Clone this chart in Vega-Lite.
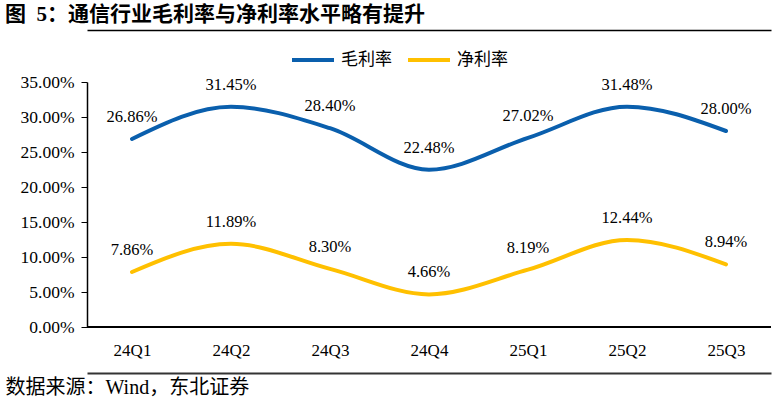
{
  "$schema": "https://vega.github.io/schema/vega-lite/v6.json",
  "autosize": "none",
  "width": 684,
  "height": 245,
  "padding": {"left": 87, "top": 82, "right": 1, "bottom": 73},
  "background": "white",
  "title": {
    "text": "图\u00a0\u00a05：通信行业毛利率与净利率水平略有提升",
    "anchor": "start",
    "frame": "group",
    "dx": -82,
    "offset": 5,
    "font": "Liberation Serif, Noto Sans CJK SC",
    "fontSize": 21,
    "fontWeight": "bold",
    "color": "#000000"
  },
  "data": {
    "values": [
      {"q": "24Q1", "s": "毛利率", "v": 0.2686},
      {"q": "24Q2", "s": "毛利率", "v": 0.3145},
      {"q": "24Q3", "s": "毛利率", "v": 0.2840},
      {"q": "24Q4", "s": "毛利率", "v": 0.2248},
      {"q": "25Q1", "s": "毛利率", "v": 0.2702},
      {"q": "25Q2", "s": "毛利率", "v": 0.3148},
      {"q": "25Q3", "s": "毛利率", "v": 0.2800},
      {"q": "24Q1", "s": "净利率", "v": 0.0786},
      {"q": "24Q2", "s": "净利率", "v": 0.1189},
      {"q": "24Q3", "s": "净利率", "v": 0.0830},
      {"q": "24Q4", "s": "净利率", "v": 0.0466},
      {"q": "25Q1", "s": "净利率", "v": 0.0819},
      {"q": "25Q2", "s": "净利率", "v": 0.1244},
      {"q": "25Q3", "s": "净利率", "v": 0.0894}
    ]
  },
  "config": {
    "view": {"stroke": null},
    "axis": {"labelFont": "Liberation Serif", "labelColor": "#000000", "domainColor": "#000000", "tickColor": "#000000"}
  },
  "encoding": {
    "y": {
      "field": "v", "type": "quantitative",
      "scale": {"domain": [0, 0.35]},
      "axis": {
        "values": [0, 0.05, 0.1, 0.15, 0.2, 0.25, 0.3, 0.35],
        "format": ".2%",
        "grid": false,
        "tickSize": 6,
        "labelPadding": 7,
        "labelFont": "Liberation Serif",
        "labelFontSize": 17.5,
        "labelOverlap": false,
        "domainWidth": 1.5,
        "title": null
      }
    }
  },
  "layer": [
    {
      "mark": {"type": "line", "interpolate": "monotone", "strokeWidth": 4, "strokeCap": "round"},
      "encoding": {
        "x": {
          "field": "q", "type": "ordinal", "sort": null,
          "scale": {"type": "point", "padding": 0.4545},
          "axis": {
            "orient": "bottom",
            "offset": 46,
            "domain": true,
            "domainColor": "#333333",
            "domainWidth": 2,
            "ticks": false,
            "labelPadding": -31,
            "labelBaseline": "top",
            "labelFont": "Liberation Serif",
            "labelFontSize": 17,
            "labelAngle": 0,
            "labelOverlap": false,
            "title": "数据来源：Wind，东北证券",
            "titleFont": "Liberation Serif, Noto Sans CJK SC",
            "titleFontSize": 20,
            "titleFontWeight": "normal",
            "titleColor": "#000000",
            "titleAnchor": "start",
            "titleAlign": "left",
            "titleX": -82,
            "titleY": 14,
            "titleBaseline": "middle"
          }
        },
        "color": {
          "field": "s", "type": "nominal",
          "scale": {"domain": ["毛利率", "净利率"], "range": ["#0a5fad", "#ffc000"]},
          "legend": {
            "title": null,
            "orient": "none",
            "direction": "horizontal",
            "legendX": 203,
            "legendY": -45,
            "symbolType": "stroke",
            "symbolStrokeWidth": 4,
            "symbolSize": 1764,
            "labelFont": "Noto Sans CJK SC",
            "labelFontSize": 17,
            "labelColor": "#000000",
            "columnPadding": 8,
            "labelOffset": 5
          }
        }
      }
    },
    {
      "mark": {"type": "text", "dy": -22, "fontSize": 16.5, "font": "Liberation Serif", "color": "#000000"},
      "encoding": {
        "x": {
          "field": "q", "type": "ordinal", "sort": null,
          "axis": {"orient": "top", "offset": 52, "labels": false, "ticks": false, "domain": true, "domainWidth": 1.5, "title": null}
        },
        "text": {"field": "v", "type": "quantitative", "format": ".2%"}
      }
    },
    {
      "mark": {"type": "rule", "color": "#000000", "strokeWidth": 1.5},
      "encoding": {"y": {"datum": 0}}
    }
  ],
  "resolve": {"axis": {"x": "independent"}}
}
